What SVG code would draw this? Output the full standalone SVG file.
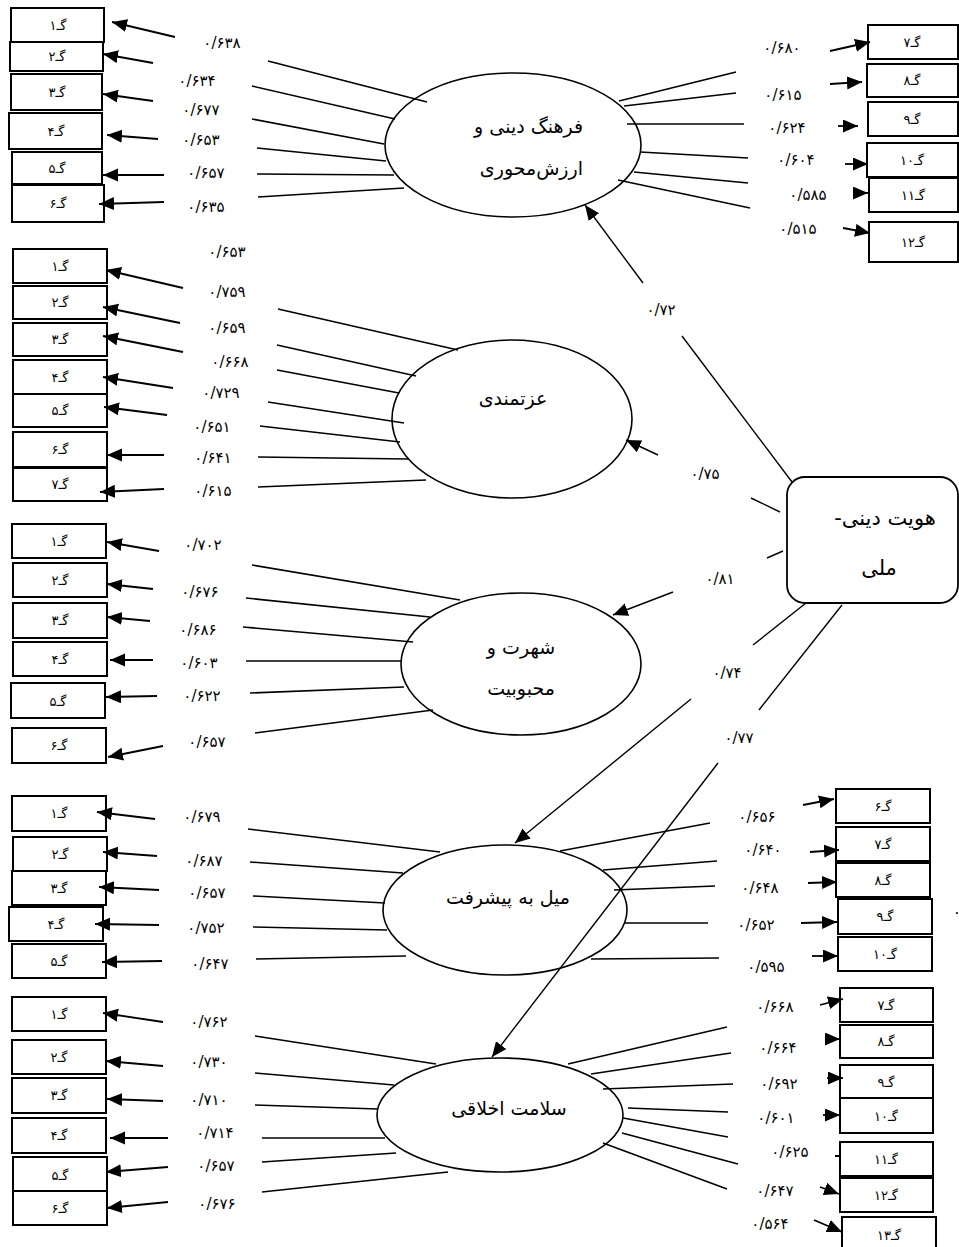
<svg xmlns="http://www.w3.org/2000/svg" width="959" height="1247" viewBox="0 0 959 1247">
<style>
.bg{fill:#fff}
.box{fill:#fff;stroke:#000;stroke-width:2}
.ell{fill:#fff;stroke:#000;stroke-width:1.6}
.mb{fill:#fff;stroke:#000;stroke-width:1.8}
.ln{stroke:#000;stroke-width:1.6;fill:none}
.ar{stroke:#000;stroke-width:1.8;fill:none;marker-end:url(#ah)}
.sar{stroke:#000;stroke-width:1.4;fill:none;marker-end:url(#ah)}
.sl{stroke:#000;stroke-width:1.4;fill:none}
text{font-family:"DejaVu Sans","Noto Sans",sans-serif;fill:#000}
.bl{font-size:13px;text-anchor:middle;dominant-baseline:central;direction:rtl}
.lb{font-size:15px;text-anchor:middle;dominant-baseline:central}
.et{font-size:19px;text-anchor:middle;dominant-baseline:central;direction:rtl}
.bt{font-size:21px;text-anchor:middle;dominant-baseline:central;direction:rtl}
</style>
<defs>
<marker id="ah" markerUnits="userSpaceOnUse" markerWidth="16" markerHeight="14" refX="15" refY="6.5" orient="auto">
<path d="M0,0 L15,6.5 L0,13 z" fill="#000"/>
</marker>
</defs>
<rect class="bg" x="0" y="0" width="959" height="1247"/>

<!-- Latent factors -->
<g id="factor-farhang"><ellipse class="ell" cx="513" cy="145" rx="128" ry="72"/>
<text class="et" x="583" y="126" style="text-anchor:start">فرهنگ دینی و</text>
<text class="et" x="583" y="168" style="text-anchor:start">ارزش‌محوری</text></g>
<g id="factor-ezzat"><ellipse class="ell" cx="512" cy="419" rx="120" ry="79"/>
<text class="et" x="513" y="398">عزتمندی</text></g>
<g id="factor-shohrat"><ellipse class="ell" cx="521" cy="664" rx="120" ry="71"/>
<text class="et" x="521" y="647">شهرت و</text>
<text class="et" x="521" y="688">محبوبیت</text></g>
<g id="factor-pishraft"><ellipse class="ell" cx="505" cy="910" rx="122" ry="65"/>
<text class="et" x="508" y="897">میل به پیشرفت</text></g>
<g id="factor-salamat"><ellipse class="ell" cx="500" cy="1115" rx="123" ry="57"/>
<text class="et" x="509" y="1108">سلامت اخلاقی</text></g>
<g id="main-identity"><rect class="mb" x="787" y="477" width="171" height="126" rx="18" ry="18"/>
<text class="bt" x="885" y="518">هویت دینی-</text>
<text class="bt" x="879" y="568">ملی</text></g>

<!-- Indicator boxes: farhang -->
<g id="f-g1"><rect class="box" x="11" y="8" width="93" height="34"/><text class="bl" x="58" y="25">گـ۱</text></g>
<g id="f-g2"><rect class="box" x="10" y="42" width="93" height="29"/><text class="bl" x="57" y="56">گـ۲</text></g>
<g id="f-g3"><rect class="box" x="11" y="74" width="91" height="36"/><text class="bl" x="57" y="92">گـ۳</text></g>
<g id="f-g4"><rect class="box" x="9" y="113" width="93" height="36"/><text class="bl" x="56" y="131">گـ۴</text></g>
<g id="f-g5"><rect class="box" x="12" y="152" width="90" height="32"/><text class="bl" x="57" y="168">گـ۵</text></g>
<g id="f-g6"><rect class="box" x="12" y="185" width="92" height="37"/><text class="bl" x="58" y="203">گـ۶</text></g>
<g id="f-g7"><rect class="box" x="868" y="25" width="90" height="34"/><text class="bl" x="912" y="42">گـ۷</text></g>
<g id="f-g8"><rect class="box" x="867" y="64" width="91" height="33"/><text class="bl" x="912" y="80">گـ۸</text></g>
<g id="f-g9"><rect class="box" x="868" y="102" width="90" height="34"/><text class="bl" x="912" y="119">گـ۹</text></g>
<g id="f-g10"><rect class="box" x="867" y="143" width="91" height="34"/><text class="bl" x="912" y="160">گـ۱۰</text></g>
<g id="f-g11"><rect class="box" x="869" y="178" width="89" height="34"/><text class="bl" x="913" y="195">گـ۱۱</text></g>
<g id="f-g12"><rect class="box" x="869" y="222" width="89" height="40"/><text class="bl" x="913" y="242">گـ۱۲</text></g>

<!-- Indicator boxes: ezzat -->
<g id="e-g1"><rect class="box" x="13" y="249" width="94" height="34"/><text class="bl" x="60" y="266">گـ۱</text></g>
<g id="e-g2"><rect class="box" x="13" y="286" width="94" height="33"/><text class="bl" x="60" y="302">گـ۲</text></g>
<g id="e-g3"><rect class="box" x="13" y="323" width="94" height="33"/><text class="bl" x="60" y="339">گـ۳</text></g>
<g id="e-g4"><rect class="box" x="13" y="360" width="94" height="34"/><text class="bl" x="60" y="377">گـ۴</text></g>
<g id="e-g5"><rect class="box" x="13" y="394" width="94" height="33"/><text class="bl" x="60" y="410">گـ۵</text></g>
<g id="e-g6"><rect class="box" x="13" y="432" width="94" height="35"/><text class="bl" x="60" y="449">گـ۶</text></g>
<g id="e-g7"><rect class="box" x="13" y="468" width="94" height="33"/><text class="bl" x="60" y="484">گـ۷</text></g>

<!-- Indicator boxes: shohrat -->
<g id="s-g1"><rect class="box" x="12" y="524" width="94" height="34"/><text class="bl" x="59" y="541">گـ۱</text></g>
<g id="s-g2"><rect class="box" x="13" y="563" width="94" height="34"/><text class="bl" x="60" y="580">گـ۲</text></g>
<g id="s-g3"><rect class="box" x="13" y="603" width="94" height="35"/><text class="bl" x="60" y="620">گـ۳</text></g>
<g id="s-g4"><rect class="box" x="13" y="642" width="94" height="34"/><text class="bl" x="60" y="659">گـ۴</text></g>
<g id="s-g5"><rect class="box" x="11" y="683" width="94" height="35"/><text class="bl" x="58" y="701">گـ۵</text></g>
<g id="s-g6"><rect class="box" x="12" y="728" width="94" height="35"/><text class="bl" x="59" y="745">گـ۶</text></g>

<!-- Indicator boxes: pishraft -->
<g id="m-g1"><rect class="box" x="12" y="796" width="94" height="35"/><text class="bl" x="59" y="813">گـ۱</text></g>
<g id="m-g2"><rect class="box" x="13" y="837" width="94" height="34"/><text class="bl" x="60" y="854">گـ۲</text></g>
<g id="m-g3"><rect class="box" x="12" y="871" width="94" height="34"/><text class="bl" x="59" y="888">گـ۳</text></g>
<g id="m-g4"><rect class="box" x="9" y="907" width="94" height="34"/><text class="bl" x="56" y="924">گـ۴</text></g>
<g id="m-g5"><rect class="box" x="12" y="944" width="94" height="34"/><text class="bl" x="59" y="961">گـ۵</text></g>
<g id="m-g6"><rect class="box" x="836" y="789" width="94" height="34"/><text class="bl" x="883" y="806">گـ۶</text></g>
<g id="m-g7"><rect class="box" x="836" y="827" width="94" height="34"/><text class="bl" x="883" y="844">گـ۷</text></g>
<g id="m-g8"><rect class="box" x="836" y="863" width="94" height="34"/><text class="bl" x="883" y="880">گـ۸</text></g>
<g id="m-g9"><rect class="box" x="838" y="899" width="94" height="35"/><text class="bl" x="885" y="916">گـ۹</text></g>
<g id="m-g10"><rect class="box" x="838" y="937" width="94" height="34"/><text class="bl" x="885" y="954">گـ۱۰</text></g>

<!-- Indicator boxes: salamat -->
<g id="h-g1"><rect class="box" x="12" y="997" width="94" height="34"/><text class="bl" x="59" y="1014">گـ۱</text></g>
<g id="h-g2"><rect class="box" x="12" y="1040" width="94" height="34"/><text class="bl" x="59" y="1057">گـ۲</text></g>
<g id="h-g3"><rect class="box" x="12" y="1078" width="94" height="35"/><text class="bl" x="59" y="1095">گـ۳</text></g>
<g id="h-g4"><rect class="box" x="12" y="1118" width="94" height="35"/><text class="bl" x="59" y="1135">گـ۴</text></g>
<g id="h-g5"><rect class="box" x="13" y="1157" width="94" height="34"/><text class="bl" x="60" y="1175">گـ۵</text></g>
<g id="h-g6"><rect class="box" x="13" y="1191" width="94" height="34"/><text class="bl" x="60" y="1208">گـ۶</text></g>
<g id="h-g7"><rect class="box" x="840" y="988" width="93" height="34"/><text class="bl" x="886" y="1005">گـ۷</text></g>
<g id="h-g8"><rect class="box" x="840" y="1025" width="93" height="33"/><text class="bl" x="886" y="1041">گـ۸</text></g>
<g id="h-g9"><rect class="box" x="840" y="1065" width="93" height="33"/><text class="bl" x="886" y="1082">گـ۹</text></g>
<g id="h-g10"><rect class="box" x="840" y="1098" width="93" height="35"/><text class="bl" x="886" y="1116">گـ۱۰</text></g>
<g id="h-g11"><rect class="box" x="840" y="1142" width="93" height="34"/><text class="bl" x="886" y="1159">گـ۱۱</text></g>
<g id="h-g12"><rect class="box" x="840" y="1178" width="93" height="34"/><text class="bl" x="886" y="1195">گـ۱۲</text></g>
<g id="h-g13"><rect class="box" x="842" y="1217" width="94" height="34"/><text class="bl" x="889" y="1235">گـ۱۳</text></g>

<!-- Connectors -->
<g id="connectors">
<!-- structural paths -->
<line class="sl" x1="792" y1="482" x2="682" y2="336"/><line class="sar" x1="643" y1="283" x2="585" y2="205"/>
<line class="sl" x1="780" y1="512" x2="751" y2="498"/><line class="sar" x1="658" y1="455" x2="626" y2="440"/>
<line class="sl" x1="783" y1="551" x2="767" y2="558"/><line class="sar" x1="673" y1="592" x2="613" y2="615"/>
<line class="sl" x1="806" y1="603" x2="753" y2="645"/><line class="sar" x1="691" y1="699" x2="515" y2="843"/>
<line class="sl" x1="842" y1="605" x2="759" y2="710"/><line class="sar" x1="718" y1="763" x2="492" y2="1057"/>

<!-- farhang -->
<line class="ln" x1="268" y1="61" x2="427" y2="102"/><line class="ln" x1="252" y1="86" x2="395" y2="119"/>
<line class="ln" x1="252" y1="119" x2="384" y2="144"/><line class="ln" x1="257" y1="148" x2="386" y2="161"/>
<line class="ln" x1="257" y1="174" x2="394" y2="175"/><line class="ln" x1="258" y1="197" x2="404" y2="188"/>
<line class="ar" x1="175" y1="37" x2="112" y2="22"/><line class="ar" x1="153" y1="63" x2="103" y2="54"/>
<line class="ar" x1="153" y1="101" x2="103" y2="94"/><line class="ar" x1="158" y1="139" x2="107" y2="135"/>
<line class="ar" x1="164" y1="175" x2="103" y2="175"/><line class="ar" x1="164" y1="202" x2="99" y2="204"/>
<line class="ln" x1="619" y1="101" x2="736" y2="72"/><line class="ln" x1="624" y1="106" x2="736" y2="93"/>
<line class="ln" x1="627" y1="124" x2="744" y2="124"/><line class="ln" x1="640" y1="152" x2="748" y2="158"/>
<line class="ln" x1="634" y1="172" x2="748" y2="183"/><line class="ln" x1="618" y1="180" x2="750" y2="208"/>
<line class="ar" x1="830" y1="51" x2="870" y2="42"/><line class="ar" x1="830" y1="84" x2="862" y2="82"/>
<line class="ar" x1="838" y1="126" x2="858" y2="126"/><line class="ar" x1="845" y1="164" x2="868" y2="164"/>
<line class="ar" x1="854" y1="193" x2="868" y2="193"/><line class="ar" x1="843" y1="228" x2="870" y2="233"/>

<!-- ezzat -->
<line class="ln" x1="278" y1="309" x2="458" y2="350"/><line class="ln" x1="277" y1="345" x2="416" y2="376"/>
<line class="ln" x1="277" y1="370" x2="399" y2="393"/><line class="ln" x1="268" y1="402" x2="404" y2="423"/>
<line class="ln" x1="260" y1="426" x2="400" y2="442"/><line class="ln" x1="258" y1="457" x2="408" y2="459"/>
<line class="ln" x1="258" y1="487" x2="426" y2="480"/>
<line class="ar" x1="183" y1="288" x2="106" y2="270"/><line class="ar" x1="180" y1="323" x2="103" y2="307"/>
<line class="ar" x1="183" y1="352" x2="103" y2="336"/><line class="ar" x1="173" y1="388" x2="103" y2="377"/>
<line class="ar" x1="167" y1="415" x2="104" y2="407"/><line class="ar" x1="164" y1="455" x2="107" y2="455"/>
<line class="ar" x1="164" y1="489" x2="100" y2="492"/>

<!-- shohrat -->
<line class="ln" x1="252" y1="565" x2="460" y2="600"/><line class="ln" x1="246" y1="598" x2="430" y2="617"/>
<line class="ln" x1="243" y1="627" x2="413" y2="642"/><line class="ln" x1="246" y1="661" x2="401" y2="661"/>
<line class="ln" x1="250" y1="693" x2="404" y2="687"/><line class="ln" x1="255" y1="733" x2="433" y2="710"/>
<line class="ar" x1="159" y1="551" x2="107" y2="542"/><line class="ar" x1="153" y1="589" x2="107" y2="584"/>
<line class="ar" x1="150" y1="621" x2="107" y2="617"/><line class="ar" x1="153" y1="660" x2="110" y2="660"/>
<line class="ar" x1="157" y1="696" x2="106" y2="697"/><line class="ar" x1="163" y1="746" x2="108" y2="757"/>

<!-- pishraft -->
<line class="ln" x1="248" y1="829" x2="440" y2="852"/><line class="ln" x1="250" y1="862" x2="403" y2="873"/>
<line class="ln" x1="253" y1="896" x2="385" y2="903"/><line class="ln" x1="253" y1="927" x2="387" y2="930"/>
<line class="ln" x1="256" y1="959" x2="406" y2="956"/>
<line class="ar" x1="155" y1="819" x2="97" y2="812"/><line class="ar" x1="157" y1="856" x2="103" y2="852"/>
<line class="ar" x1="159" y1="890" x2="99" y2="887"/><line class="ar" x1="159" y1="925" x2="95" y2="924"/>
<line class="ar" x1="162" y1="961" x2="102" y2="962"/>
<line class="ln" x1="560" y1="851" x2="710" y2="823"/><line class="ln" x1="603" y1="870" x2="717" y2="861"/>
<line class="ln" x1="614" y1="890" x2="715" y2="886"/><line class="ln" x1="624" y1="923" x2="708" y2="923"/>
<line class="ln" x1="591" y1="959" x2="719" y2="958"/>
<line class="ar" x1="803" y1="805" x2="834" y2="799"/><line class="ar" x1="810" y1="852" x2="839" y2="850"/>
<line class="ar" x1="808" y1="883" x2="837" y2="882"/><line class="ar" x1="801" y1="923" x2="837" y2="922"/>
<line class="ar" x1="812" y1="956" x2="838" y2="956"/>

<!-- salamat -->
<line class="ln" x1="255" y1="1036" x2="436" y2="1064"/><line class="ln" x1="255" y1="1073" x2="394" y2="1085"/>
<line class="ln" x1="255" y1="1105" x2="378" y2="1109"/><line class="ln" x1="262" y1="1138" x2="385" y2="1138"/>
<line class="ln" x1="262" y1="1162" x2="396" y2="1153"/><line class="ln" x1="262" y1="1192" x2="448" y2="1172"/>
<line class="ar" x1="163" y1="1022" x2="103" y2="1013"/><line class="ar" x1="163" y1="1066" x2="106" y2="1061"/>
<line class="ar" x1="163" y1="1101" x2="107" y2="1099"/><line class="ar" x1="168" y1="1138" x2="110" y2="1138"/>
<line class="ar" x1="168" y1="1167" x2="106" y2="1172"/><line class="ar" x1="168" y1="1202" x2="107" y2="1208"/>
<line class="ln" x1="568" y1="1064" x2="727" y2="1027"/><line class="ln" x1="591" y1="1074" x2="731" y2="1053"/>
<line class="ln" x1="603" y1="1089" x2="733" y2="1084"/><line class="ln" x1="628" y1="1108" x2="728" y2="1112"/>
<line class="ln" x1="623" y1="1118" x2="728" y2="1137"/><line class="ln" x1="622" y1="1133" x2="738" y2="1164"/>
<line class="ln" x1="603" y1="1143" x2="727" y2="1189"/>
<line class="ar" x1="820" y1="1005" x2="843" y2="999"/><line class="ar" x1="826" y1="1039" x2="840" y2="1039"/>
<line class="ar" x1="827" y1="1078" x2="843" y2="1078"/><line class="ar" x1="823" y1="1115" x2="840" y2="1115"/>
<line class="ln" x1="835" y1="1156" x2="840" y2="1156" style="stroke-width:2"/>
<line class="ar" x1="820" y1="1187" x2="839" y2="1194"/><line class="ar" x1="814" y1="1220" x2="842" y2="1232"/>
</g>

<!-- Coefficient labels -->
<g id="labels">
<text class="lb" x="705" y="474">۰/۷۵</text>
<text class="lb" x="661" y="310">۰/۷۲</text>
<text class="lb" x="720" y="579">۰/۸۱</text>
<text class="lb" x="727" y="673">۰/۷۴</text>
<text class="lb" x="739" y="738">۰/۷۷</text>

<text class="lb" x="222" y="43">۰/۶۳۸</text>
<text class="lb" x="197" y="81">۰/۶۳۴</text>
<text class="lb" x="201" y="110">۰/۶۷۷</text>
<text class="lb" x="201" y="140">۰/۶۵۳</text>
<text class="lb" x="206" y="173">۰/۶۵۷</text>
<text class="lb" x="206" y="207">۰/۶۳۵</text>
<text class="lb" x="782" y="48">۰/۶۸۰</text>
<text class="lb" x="783" y="95">۰/۶۱۵</text>
<text class="lb" x="787" y="128">۰/۶۲۴</text>
<text class="lb" x="796" y="160">۰/۶۰۴</text>
<text class="lb" x="808" y="195">۰/۵۸۵</text>
<text class="lb" x="798" y="229">۰/۵۱۵</text>

<text class="lb" x="227" y="252">۰/۶۵۳</text>
<text class="lb" x="227" y="292">۰/۷۵۹</text>
<text class="lb" x="227" y="328">۰/۶۵۹</text>
<text class="lb" x="230" y="362">۰/۶۶۸</text>
<text class="lb" x="221" y="393">۰/۷۲۹</text>
<text class="lb" x="212" y="427">۰/۶۵۱</text>
<text class="lb" x="213" y="458">۰/۶۴۱</text>
<text class="lb" x="213" y="491">۰/۶۱۵</text>

<text class="lb" x="203" y="545">۰/۷۰۲</text>
<text class="lb" x="200" y="592">۰/۶۷۶</text>
<text class="lb" x="198" y="630">۰/۶۸۶</text>
<text class="lb" x="199" y="663">۰/۶۰۳</text>
<text class="lb" x="202" y="696">۰/۶۲۲</text>
<text class="lb" x="207" y="742">۰/۶۵۷</text>

<text class="lb" x="202" y="817">۰/۶۷۹</text>
<text class="lb" x="204" y="861">۰/۶۸۷</text>
<text class="lb" x="207" y="893">۰/۶۵۷</text>
<text class="lb" x="206" y="928">۰/۷۵۲</text>
<text class="lb" x="210" y="964">۰/۶۴۷</text>
<text class="lb" x="757" y="817">۰/۶۵۶</text>
<text class="lb" x="763" y="850">۰/۶۴۰</text>
<text class="lb" x="760" y="888">۰/۶۴۸</text>
<text class="lb" x="756" y="925">۰/۶۵۲</text>
<text class="lb" x="766" y="967">۰/۵۹۵</text>
<text class="lb" x="957" y="909">.</text>

<text class="lb" x="209" y="1022">۰/۷۶۲</text>
<text class="lb" x="209" y="1062">۰/۷۳۰</text>
<text class="lb" x="209" y="1100">۰/۷۱۰</text>
<text class="lb" x="215" y="1133">۰/۷۱۴</text>
<text class="lb" x="216" y="1166">۰/۶۵۷</text>
<text class="lb" x="217" y="1204">۰/۶۷۶</text>
<text class="lb" x="775" y="1007">۰/۶۶۸</text>
<text class="lb" x="778" y="1048">۰/۶۶۴</text>
<text class="lb" x="779" y="1084">۰/۶۹۲</text>
<text class="lb" x="776" y="1118">۰/۶۰۱</text>
<text class="lb" x="790" y="1152">۰/۶۲۵</text>
<text class="lb" x="775" y="1191">۰/۶۴۷</text>
<text class="lb" x="770" y="1224">۰/۵۶۴</text>
</g>
</svg>
